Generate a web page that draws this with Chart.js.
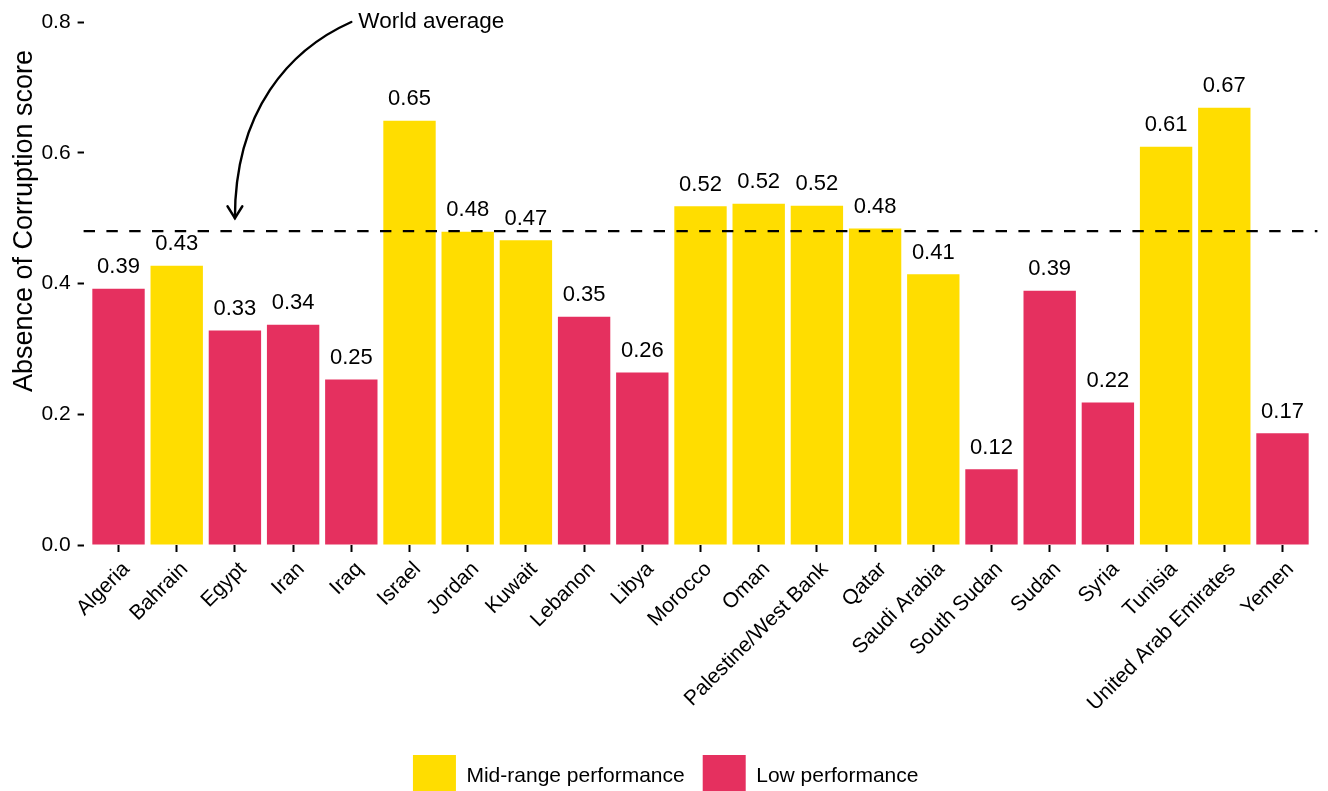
<!DOCTYPE html>
<html>
<head>
<meta charset="utf-8">
<title>Absence of Corruption score</title>
<script src="https://cdn.jsdelivr.net/npm/chart.js@4/dist/chart.umd.min.js"></script>
<style>
  html, body { margin: 0; padding: 0; background: #fff; }
  canvas { display: block; }
</style>
</head>
<body>
<canvas id="corruptionChart" width="1328" height="791"></canvas>
<script>
// data
const countries = ['Algeria', 'Bahrain', 'Egypt', 'Iran', 'Iraq', 'Israel', 'Jordan', 'Kuwait',
    'Lebanon', 'Libya', 'Morocco', 'Oman', 'Palestine/West Bank', 'Qatar', 'Saudi Arabia',
    'South Sudan', 'Sudan', 'Syria', 'Tunisia', 'United Arab Emirates', 'Yemen'];
const scores = [0.392, 0.427, 0.328, 0.337, 0.253, 0.649, 0.479, 0.466,
    0.349, 0.264, 0.518, 0.522, 0.519, 0.484, 0.414,
    0.116, 0.389, 0.218, 0.609, 0.669, 0.171];
const performance = ['Low', 'Mid', 'Low', 'Low', 'Low', 'Mid', 'Mid', 'Mid',
    'Low', 'Low', 'Mid', 'Mid', 'Mid', 'Mid', 'Mid',
    'Low', 'Low', 'Low', 'Mid', 'Mid', 'Low'];
const groupKeys = ['Mid', 'Low'];
const groupLabels = ['Mid-range performance', 'Low performance'];
const groupColors = ['#FFDD00', '#E5305F'];
const yTicks = [0, 0.2, 0.4, 0.6, 0.8];
const worldAverage = 0.48;
const yTitle = 'Absence of Corruption score';

// annotation (data coordinates): label, curve start, curve end
const noteText = 'World average';
const noteTextAt = [4.12, 0.8];
const arrowFrom = [4.0, 0.8];
const arrowTo = [2.0, 0.5];

const FONT = '"Liberation Sans", Arial, Helvetica, sans-serif';
const INK = '#000';

const datasets = groupKeys.map((key, g) => ({
    label: groupLabels[g],
    data: countries.map((c, i) => ({ x: i, y: scores[i], grp: performance[i] }))
        .filter(d => d.grp === key),
    backgroundColor: groupColors[g],
    borderWidth: 0,
    grouped: false,
    categoryPercentage: 1,
    barPercentage: 0.9,
}));

// dashed world-average line plus value labels on top of the bars
const barExtras = {
    id: 'barExtras',
    afterDatasetsDraw(chart) {
        const { ctx, chartArea, scales } = chart;
        const y = scales.y.getPixelForValue(worldAverage);
        ctx.save();
        ctx.strokeStyle = '#000';
        ctx.lineWidth = 2.2;
        ctx.setLineDash([11.4, 11.4]);
        ctx.beginPath();
        ctx.moveTo(chartArea.left, y);
        ctx.lineTo(chartArea.right, y);
        ctx.stroke();
        ctx.restore();

        ctx.save();
        ctx.font = '22px ' + FONT;
        ctx.fillStyle = INK;
        ctx.textAlign = 'center';
        ctx.textBaseline = 'alphabetic';
        chart.data.datasets.forEach((ds, i) => {
            chart.getDatasetMeta(i).data.forEach((bar, j) => {
                ctx.fillText(ds.data[j].y.toFixed(2), bar.x, bar.y - 15.5);
            });
        });
        ctx.restore();
    }
};

// curved arrow + "World average" note, y axis title
const annotations = {
    id: 'annotations',
    afterDraw(chart) {
        const { ctx, scales } = chart;
        const px = p => [scales.x.getPixelForValue(p[0]), scales.y.getPixelForValue(p[1])];
        const [sx, sy] = px(arrowFrom);
        const [ex, ey] = px(arrowTo);
        const c1 = [sx + 0.53 * (ex - sx), sy + 0.14 * (ey - sy)];
        const c2 = [ex, sy + 0.45 * (ey - sy)];

        ctx.save();
        ctx.strokeStyle = '#000';
        ctx.lineWidth = 2.4;
        ctx.lineCap = 'round';
        ctx.beginPath();
        ctx.moveTo(sx, sy);
        ctx.bezierCurveTo(c1[0], c1[1], c2[0], c2[1], ex, ey);
        ctx.stroke();

        // open arrow head
        const ang = Math.atan2(ey - c2[1], ex - c2[0]);
        const len = 14, spread = 32 * Math.PI / 180;
        ctx.beginPath();
        ctx.moveTo(ex - len * Math.cos(ang - spread), ey - len * Math.sin(ang - spread));
        ctx.lineTo(ex, ey);
        ctx.lineTo(ex - len * Math.cos(ang + spread), ey - len * Math.sin(ang + spread));
        ctx.stroke();

        const [tx, ty] = px(noteTextAt);
        ctx.font = '22.5px ' + FONT;
        ctx.fillStyle = INK;
        ctx.textAlign = 'left';
        ctx.textBaseline = 'middle';
        ctx.fillText(noteText, tx, ty);

        ctx.translate(25, 221);
        ctx.rotate(-Math.PI / 2);
        ctx.font = '27px ' + FONT;
        ctx.textAlign = 'center';
        ctx.fillText(yTitle, 0, 0);
        ctx.restore();
    }
};

// push the legend down to the bottom edge and a little to the right
const legendNudge = {
    id: 'legendNudge',
    afterLayout(chart) {
        const lg = chart.legend;
        lg.top += 17;
        lg.bottom += 17;
        lg.left += 7;
        lg.right += 7;
    }
};

new Chart(document.getElementById('corruptionChart'), {
    type: 'bar',
    data: { datasets },
    plugins: [barExtras, annotations, legendNudge],
    options: {
        responsive: false,
        animation: false,
        events: [],
        layout: { padding: { top: 22, right: 10.6, left: 0, bottom: 0 } },
        scales: {
            x: {
                type: 'linear',
                offset: false,
                min: -0.6,
                max: countries.length - 0.4,
                afterBuildTicks: s => { s.ticks = countries.map((c, i) => ({ value: i })); },
                afterFit: s => { s.height = 175; },
                border: { display: false },
                grid: { offset: false, drawOnChartArea: false, tickLength: 7, tickColor: '#000', tickWidth: 2 },
                ticks: {
                    autoSkip: false,
                    minRotation: 45,
                    maxRotation: 45,
                    labelOffset: 8,
                    padding: 5,
                    color: INK,
                    font: { family: FONT, size: 21 },
                    callback: v => countries[v] ?? ''
                }
            },
            y: {
                min: 0,
                max: 0.8,
                afterBuildTicks: s => { s.ticks = yTicks.map(v => ({ value: v })); },
                afterFit: s => { s.width = 83.6; },
                border: { display: false },
                grid: { drawOnChartArea: false, tickLength: 6, tickColor: '#000', tickWidth: 2 },
                ticks: {
                    padding: 7,
                    color: INK,
                    font: { family: FONT, size: 21 },
                    callback: v => v.toFixed(1)
                }
            }
        },
        plugins: {
            tooltip: { enabled: false },
            legend: {
                position: 'bottom',
                labels: {
                    boxWidth: 43,
                    boxHeight: 43,
                    padding: 18,
                    color: INK,
                    font: { family: FONT, size: 21 }
                }
            }
        }
    }
});
</script>
</body>
</html>
